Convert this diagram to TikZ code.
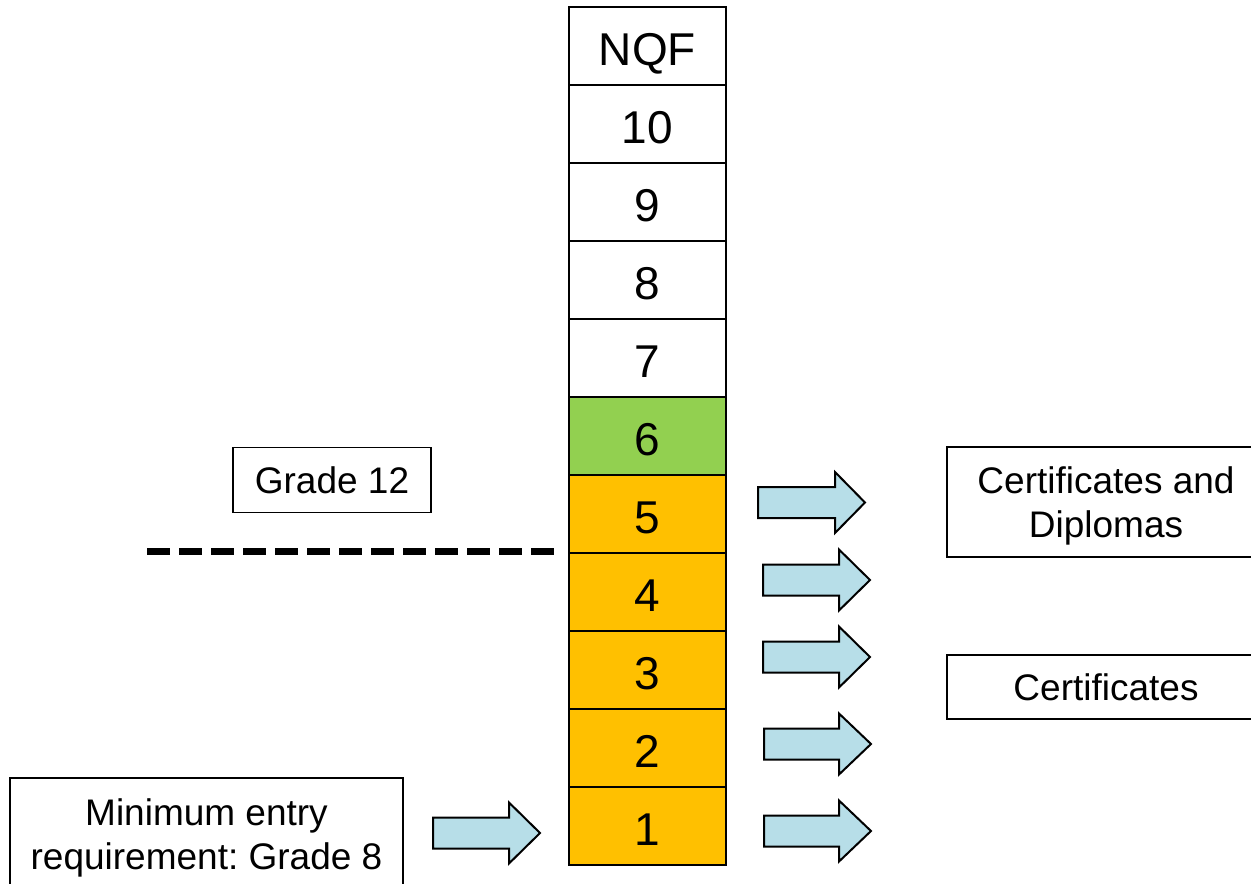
\documentclass[tikz,border=0pt]{standalone}
\usepackage{fontspec}
\setmainfont{Liberation Sans}
\frenchspacing
\definecolor{lvgreen}{HTML}{92D050}
\definecolor{lvorange}{HTML}{FFC000}
\definecolor{arrowblue}{HTML}{B7DEE8}
\begin{document}
\begin{tikzpicture}[x=1pt,y=-1pt,
  lvrow/.style={draw=black, line width=2pt, minimum width=157pt, minimum height=78pt, inner sep=0pt,
     text height=38pt, text depth=0pt, font=\fontsize{46}{52}\selectfont},
  infobox/.style={draw=black, line width=1.5pt, inner sep=0pt, align=center,
     font=\fontsize{37}{44}\selectfont},
  blockarrow/.style={draw=black, line width=2pt, fill=arrowblue, line join=miter}]
\useasboundingbox (0,0) rectangle (1251,884);
% column of levels
\node[lvrow, fill=white] (nqf) at (647.5,46) {NQF};
\node[lvrow, fill=white] (l10) at (647.5,124) {10};
\node[lvrow, fill=white] (l9) at (647.5,202) {9};
\node[lvrow, fill=white] (l8) at (647.5,280) {8};
\node[lvrow, fill=white] (l7) at (647.5,358) {7};
\node[lvrow, fill=lvgreen] (l6) at (647.5,436) {6};
\node[lvrow, fill=lvorange] (l5) at (647.5,514) {5};
\node[lvrow, fill=lvorange] (l4) at (647.5,592) {4};
\node[lvrow, fill=lvorange] (l3) at (647.5,670) {3};
\node[lvrow, fill=lvorange] (l2) at (647.5,748) {2};
\node[lvrow, fill=lvorange] (l1) at (647.5,826) {1};
% boxes
\node[infobox, minimum width=198pt, minimum height=65pt] (g12) at (332,480) {Grade 12};
\node[infobox, minimum width=318pt, minimum height=110pt, text depth=0pt] (cd) at (1106,502) {Certificates and\\Diplomas};
\node[infobox, minimum width=318pt, minimum height=64pt] (cert) at (1106,687) {Certificates};
\node[infobox, minimum width=393pt, minimum height=120pt] (minent) at (206.5,838) {Minimum entry\\requirement: Grade 8};
% dashed line
\coordinate (dl) at (147,551);
\coordinate (dr) at (555,551);
\draw[line width=7pt, dash pattern=on 23pt off 9pt] (dl) -- (dr);
% block arrows
\newcommand{\blkarrow}[3]{% left x, center y, head base x offset
  \draw[blockarrow] (#1,#2-15.5) -- (#1+#3,#2-15.5) -- (#1+#3,#2-30.5) -- (#1+107,#2)
    -- (#1+#3,#2+30.5) -- (#1+#3,#2+15.5) -- (#1,#2+15.5) -- cycle;}
\blkarrow{758}{502.5}{77}
\blkarrow{763}{580}{76}
\blkarrow{763}{657}{76}
\blkarrow{764}{744}{75}
\blkarrow{764}{831}{75}
\blkarrow{433}{833}{76}
\end{tikzpicture}
\end{document}
